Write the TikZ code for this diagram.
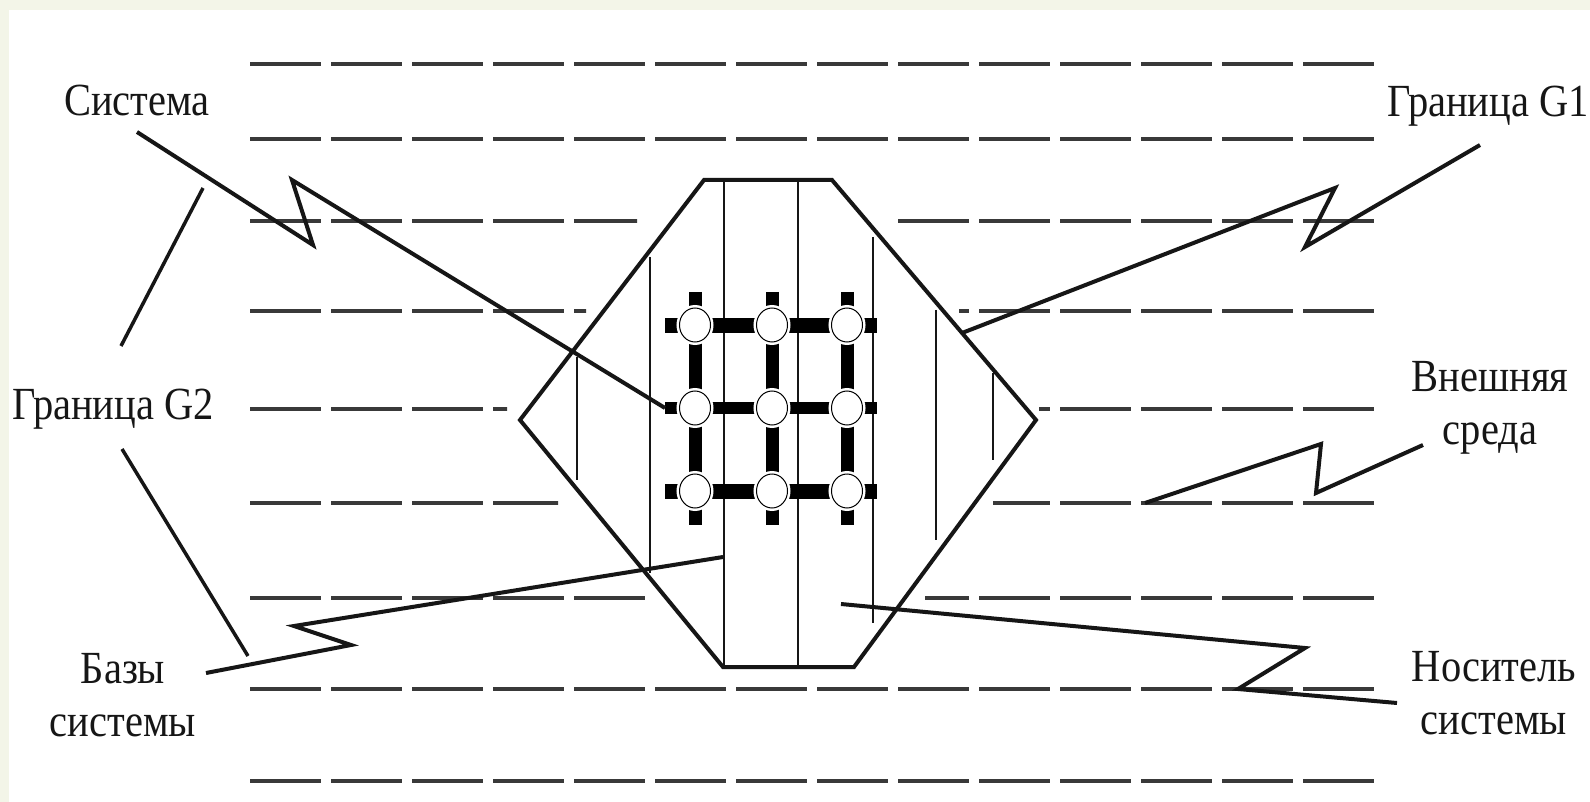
\documentclass[tikz,border=0pt]{standalone}
\usepackage{fontspec}
\setmainfont{Liberation Serif}[FakeStretch=0.88]
\usetikzlibrary{shapes.geometric}
\definecolor{frame_colour}{RGB}{243, 245, 232}
\definecolor{ink_colour}{RGB}{22, 22, 22}

\begin{document}
\begin{tikzpicture}[
    x=1pt, y=-1pt,
    lbl/.style={font=\fontsize{46}{53}\selectfont, text=ink_colour,
                align=center, inner sep=0pt},
    envline/.style={draw=ink_colour!85, line width=3.2pt,
                dash pattern=on 71pt off 10pt},
    hexline/.style={draw=ink_colour, line width=4pt, line join=miter},
    layer/.style={draw=ink_colour, line width=1.8pt},
    leader/.style={draw=ink_colour, line width=4pt, line join=miter},
    hbond/.style={draw=black, line width=15pt, shorten <=-30pt, shorten >=-30pt},
    vbond/.style={draw=black, line width=13pt, shorten <=-33pt, shorten >=-34pt},
    atom/.style={ellipse, draw=black, fill=white, line width=1pt, inner sep=0pt,
                minimum width=31pt, minimum height=34pt,
                preaction={draw=white, line width=6pt}},
]
\fill[frame_colour] (0,0) rectangle (1590,802);
\fill[white] (9,10) rectangle (1590,802);
\useasboundingbox (0,0) rectangle (1590,802);

\draw[envline] (250,64) -- (1377,64);
\draw[envline] (250,139) -- (1377,139);
\begin{scope}
  \clip (250,0) rectangle (637,802) (890,0) rectangle (1380,802);
  \draw[envline] (250,221) -- (1377,221);
\end{scope}
\begin{scope}
  \clip (250,0) rectangle (586,802) (959,0) rectangle (1380,802);
  \draw[envline] (250,311) -- (1377,311);
\end{scope}
\begin{scope}
  \clip (250,0) rectangle (507,802) (1039,0) rectangle (1380,802);
  \draw[envline] (250,409) -- (1377,409);
\end{scope}
\begin{scope}
  \clip (250,0) rectangle (558,802) (993,0) rectangle (1380,802);
  \draw[envline] (250,503) -- (1377,503);
\end{scope}
\begin{scope}
  \clip (250,0) rectangle (648,802) (925,0) rectangle (1380,802);
  \draw[envline] (250,598) -- (1377,598);
\end{scope}
\draw[envline] (250,689) -- (1377,689);
\draw[envline] (250,781) -- (1377,781);

\coordinate (hexTL) at (704,180);
\coordinate (hexTR) at (832,180);
\coordinate (hexR)  at (1036,420);
\coordinate (hexBR) at (854,667);
\coordinate (hexBL) at (723,667);
\coordinate (hexL)  at (520,420);
\draw[hexline] (hexTL) -- (hexTR) -- (hexR) -- (hexBR) -- (hexBL) -- (hexL) -- cycle;

\draw[layer] (577,357) -- (577,480);
\draw[layer] (650,257) -- (650,573);
\draw[layer] (724,180) -- (724,667);
\draw[layer] (798,180) -- (798,667);
\draw[layer] (873,237) -- (873,623);
\draw[layer] (936,310) -- (936,540);
\draw[layer] (993,373) -- (993,460);

\coordinate (a11) at (695,325);
\coordinate (a12) at (772,325);
\coordinate (a13) at (847,325);
\coordinate (a21) at (695,408);
\coordinate (a23) at (847,408);
\coordinate (a31) at (695,491);
\coordinate (a32) at (772,491);
\coordinate (a33) at (847,491);
\draw[hbond] (a11) -- (a13);
\draw[hbond, line width=12pt] (a21) -- (a23);
\draw[hbond] (a31) -- (a33);
\draw[vbond] (a11) -- (a31);
\draw[vbond] (a12) -- (a32);
\draw[vbond] (a13) -- (a33);

\node[atom] (n11) at (a11) {};
\node[atom] (n12) at (a12) {};
\node[atom] (n13) at (a13) {};
\node[atom] (n21) at (a21) {};
\node[atom] (n22) at (772,408) {};
\node[atom] (n23) at (a23) {};
\node[atom] (n31) at (a31) {};
\node[atom] (n32) at (a32) {};
\node[atom] (n33) at (a33) {};

\node[lbl] (sysl)    at (137,100)  {Система};
\node[lbl] (gone)    at (1488,106) {Граница G1};
\node[lbl] (gtwo)    at (113,409)  {Граница G2};
\node[lbl] (outer)   at (1490,408) {Внешняя\\среда};
\node[lbl] (bases)   at (123,695)  {Базы\\системы};
\node[lbl] (carrier) at (1494,693) {Носитель\\системы};

\coordinate (sysA) at (137,132);
\coordinate (sysT) at (665,408);
\coordinate (goneA) at (1480,145);
\coordinate (goneT) at (962,333);
\coordinate (gtwoA) at (121,346);
\coordinate (gtwoT) at (203,188);
\coordinate (gtwoB) at (122,449);
\coordinate (gtwoS) at (248,656);
\coordinate (basesA) at (206,673);
\coordinate (basesT) at (723,557);
\coordinate (outerA) at (1423,445);
\coordinate (outerT) at (1145,503);
\coordinate (carrierA) at (1397,703);
\coordinate (carrierT) at (841,604);

\draw[leader] (sysA) -- (313,245) -- (292,180) -- (sysT);
\draw[leader] (goneA) -- (1305,247) -- (1335,188) -- (goneT);
\draw[leader, line width=3.5pt] (gtwoA) -- (gtwoT);
\draw[leader, line width=3.5pt] (gtwoB) -- (gtwoS);
\draw[leader] (basesA) -- (351,645) -- (294,626) -- (basesT);
\draw[leader] (outerA) -- (1316,493) -- (1321,444) -- (outerT);
\draw[leader] (carrierA) -- (1238,689) -- (1305,648) -- (carrierT);
\end{tikzpicture}
\end{document}
